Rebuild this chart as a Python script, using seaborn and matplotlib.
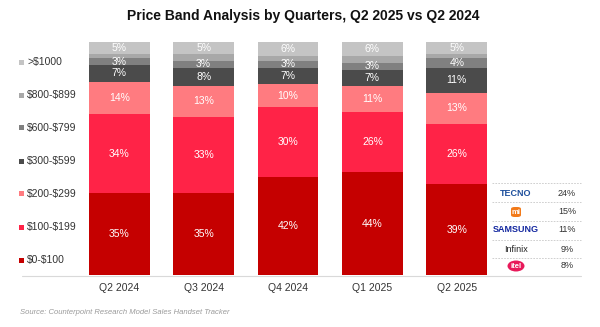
import numpy as np
import pandas as pd
import matplotlib
matplotlib.use("Agg")
import matplotlib.pyplot as plt
from matplotlib.patches import Rectangle, FancyBboxPatch, Ellipse
from matplotlib.lines import Line2D
import seaborn as sns

# ---- data -------------------------------------------------------------
quarters = ["Q2 2024", "Q3 2024", "Q4 2024", "Q1 2025", "Q2 2025"]
bands = ["$0-$100", "$100-$199", "$200-$299", "$300-$599",
         "$600-$799", "$800-$899", ">$1000"]
share_0_100 = [35, 35, 42, 44, 39]
share_100_199 = [34, 33, 30, 26, 26]
share_200_299 = [14, 13, 10, 11, 13]
share_300_599 = [7, 8, 7, 7, 11]
share_600_799 = [3, 3, 3, 3, 4]
share_800_899 = [2, 3, 2, 3, 2]
share_1000_up = [5, 5, 6, 6, 5]
labelled = [True, True, True, True, True, False, True]

brands = ["TECNO", "mi", "SAMSUNG", "Infinix", "itel"]
brand_share = ["24%", "15%", "11%", "9%", "8%"]

band_colors = ["#c50000", "#ff2347", "#ff7b80", "#4b4b4b",
               "#808080", "#a8a8a8", "#c4c4c4"]

series = [share_0_100, share_100_199, share_200_299, share_300_599,
          share_600_799, share_800_899, share_1000_up]
df = pd.DataFrame({b: s for b, s in zip(bands, series)}, index=quarters)
cum = df.cumsum(axis=1)

W, H = 600, 327
sns.set_theme(style="white")
plt.rcParams["font.family"] = ["Liberation Sans", "DejaVu Sans"]

fig = plt.figure(figsize=(W / 100, H / 100), dpi=100)


def fx(x):
    return x / W


def fy(y):
    return 1 - y / H


ax = fig.add_axes([fx(77), fy(275), fx(499) - fx(77), (275 - 42) / H])

# stacked bars: draw cumulative totals from the top band down
for i in range(len(bands) - 1, -1, -1):
    d = pd.DataFrame({"quarter": quarters, "value": cum[bands[i]].values})
    sns.barplot(data=d, x="quarter", y="value", color=band_colors[i],
                width=0.72, saturation=1, ax=ax, edgecolor="none",
                linewidth=0)

# percentage labels
for i, b in enumerate(bands):
    if not labelled[i]:
        continue
    for j, q in enumerate(quarters):
        v = df.loc[q, b]
        mid = cum.loc[q, b] - v / 2
        ax.text(j, mid, f"{v}%", ha="center", va="center",
                color="white", fontsize=7.5)

ax.set_xlim(-0.5, 4.5)
ax.set_ylim(0, 100)
ax.set_xlabel("")
ax.set_ylabel("")
ax.set_yticks([])
ax.tick_params(axis="x", length=0, pad=6, labelsize=7.5, labelcolor="#333333")
for s in ax.spines.values():
    s.set_visible(False)

# baseline across the whole chart
fig.add_artist(Line2D([fx(22), fx(581)], [fy(275.5), fy(275.5)],
                      color="#d9d9d9", lw=0.8))

# title
fig.text(fx(303), fy(16), "Price Band Analysis by Quarters, Q2 2025 vs Q2 2024",
         ha="center", va="center", fontsize=10, fontweight="bold",
         color="#111111")

# legend on the left, top band first
leg_y = [62, 95, 128, 161, 194, 227, 260]
for k, i in enumerate(range(len(bands) - 1, -1, -1)):
    y = leg_y[k]
    fig.add_artist(Rectangle((fx(19), fy(y + 2.5)), 5 / W, 5 / H,
                             transform=fig.transFigure,
                             color=band_colors[i], lw=0))
    fig.text(fx(27), fy(y), bands[i], ha="left", va="center",
             fontsize=7.5, color="#333333", parse_math=False)

# brand table on the right
row_y = [193, 212, 230, 249, 266]
sep_y = [183, 202, 221, 240, 258]
for y in sep_y:
    fig.add_artist(Line2D([fx(492), fx(581)], [fy(y), fy(y)],
                          color="#c8c8c8", lw=0.6, ls=(0, (2, 1.5))))

for name, share, y in zip(brands, brand_share, row_y):
    cx = fx(516)
    if name == "TECNO":
        fig.text(cx, fy(y), "TECNO", ha="center", va="center", fontsize=6.5,
                 fontweight="bold", color="#1d4f9c")
    elif name == "mi":
        fig.add_artist(FancyBboxPatch((fx(511), fy(y + 5)), 10 / W, 10 / H,
                                      boxstyle="round,pad=0,rounding_size=0.006",
                                      transform=fig.transFigure,
                                      color="#f27a1a", lw=0))
        fig.text(fx(516), fy(y), "mi", ha="center", va="center",
                 fontsize=5.5, fontweight="bold", color="white")
    elif name == "SAMSUNG":
        fig.text(cx, fy(y), "SAMSUNG", ha="center", va="center", fontsize=6.5,
                 fontweight="bold", color="#1428a0")
    elif name == "Infinix":
        fig.text(cx, fy(y), "Infinix", ha="center", va="center", fontsize=6.5,
                 color="#222222")
    else:
        fig.add_artist(Ellipse((fx(516), fy(y)), 17 / W, 11 / H,
                               transform=fig.transFigure,
                               color="#e8195a", lw=0))
        fig.text(fx(516), fy(y), "itel", ha="center", va="center",
                 fontsize=5.5, fontweight="bold", color="white")
    fig.text(fx(567), fy(y), share, ha="center", va="center",
             fontsize=6.5, color="#333333")

# source note
fig.text(fx(20), fy(313), "Source: Counterpoint Research Model Sales Handset Tracker",
         ha="left", va="center", fontsize=5.5, style="italic", color="#9a9a9a")

fig.savefig("out.png", dpi=100)
